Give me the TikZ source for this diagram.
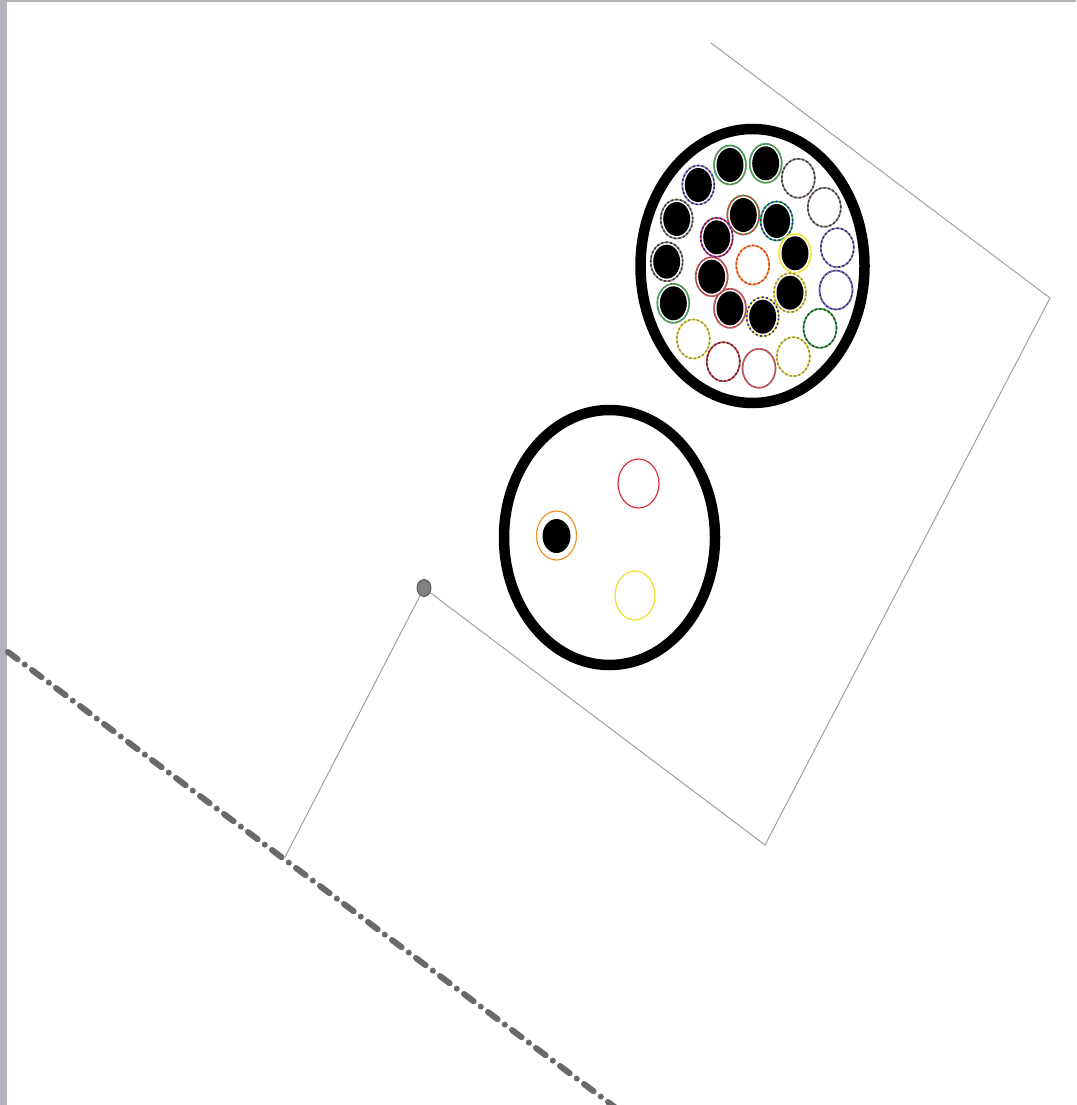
\documentclass[tikz,border=0pt]{standalone}
\usetikzlibrary{shapes.geometric}
\definecolor{framegray}{RGB}{178,180,185}
\definecolor{outlinegray}{RGB}{160,160,160}
\definecolor{dashgray}{RGB}{105,105,105}
\definecolor{wgreen}{RGB}{40,170,60}
\definecolor{wgray}{RGB}{140,130,130}
\definecolor{wdark}{RGB}{60,55,55}
\definecolor{wblue}{RGB}{40,40,170}
\definecolor{wred}{RGB}{220,50,60}
\definecolor{wyellow}{RGB}{235,225,40}
\definecolor{worange}{RGB}{240,150,40}
\newcommand\wireB[4]{%
  \fill[black] (#1,#2) ellipse [x radius=13.5pt, y radius=17pt];
  \draw[#3, line width=1.6pt] (#1,#2) ellipse [x radius=16pt, y radius=19.5pt];
  \draw[#4, line width=1.6pt, dash pattern=on 2pt off 2.5pt] (#1,#2) ellipse [x radius=16pt, y radius=19.5pt];}
\newcommand\wireW[4]{%
  \draw[#3, line width=1.6pt] (#1,#2) ellipse [x radius=16.5pt, y radius=19.5pt];
  \draw[#4, line width=1.6pt, dash pattern=on 2pt off 2.5pt] (#1,#2) ellipse [x radius=16.5pt, y radius=19.5pt];}
\tikzset{
  cablejacket/.style={draw=black, line width=10.5pt},
  outlineline/.style={draw=outlinegray, line width=1pt},
  dashdotline/.style={draw=dashgray, line width=6pt, line cap=round, dash pattern=on 12pt off 9pt on 0pt off 9pt},
  jointdot/.style={ellipse, draw=black!70, fill=gray, line width=0.8pt, minimum width=14pt, minimum height=17pt, inner sep=0pt},
}
\begin{document}
\begin{tikzpicture}[x=1pt,y=-1pt]
\useasboundingbox (0,0) rectangle (1076,1105);
\clip (0,0) rectangle (1076,1105);
% screenshot frame
\fill[framegray] (0,0) rectangle (7,1105);
\fill[framegray] (0,0) rectangle (1076,2);
% dash-dot line
\coordinate (dA) at (8,652);
\coordinate (dB) at (616,1108);
\draw[dashdotline] (dA) -- (dB);
% outline
\node[jointdot] (joint) at (424,588) {};
\coordinate (p0) at (285,857);
\coordinate (p1) at (765,845);
\coordinate (p2) at (1050,298);
\coordinate (p3) at (711,43);
\draw[outlineline] (p0) -- (joint) -- (p1) -- (p2) -- (p3);
% big cable
\draw[cablejacket] (752.5,266) ellipse [x radius=112pt, y radius=137pt];
% outer ring of wires
\wireB{730}{165}{wgreen}{wgray}
\wireB{765.7}{163.3}{wgreen}{wgray}
\wireW{798.3}{178.3}{wgray}{wdark}
\wireW{824.3}{207.3}{wgray}{wdark}
\wireW{837.3}{247.7}{wgray}{wblue}
\wireW{836}{290}{wblue}{wgray}
\wireW{820}{328.3}{wgreen}{wdark}
\wireW{793.3}{356.7}{wyellow}{wgray}
\wireW{759}{368.3}{wred}{wgray}
\wireW{723.3}{361.7}{wred}{wdark}
\wireW{693.3}{339}{wyellow}{wgray}
\wireB{673.3}{303.3}{wgreen}{wgray}
\wireB{666.7}{261.7}{wgray}{wdark}
\wireB{676.7}{219}{wgray}{wdark}
\wireB{698.3}{185}{wgray}{wblue}
% inner ring of wires
\wireB{743.3}{215}{wred}{wgreen}
\wireB{776.7}{221}{wgreen}{wblue}
\wireB{795}{253.3}{wyellow}{wyellow!60}
\wireB{790}{292.7}{wyellow}{wgray}
\wireB{762.7}{316.7}{wyellow}{wblue}
\wireB{730}{308.3}{wred}{wgray}
\wireB{711.7}{276.7}{wred}{wgray}
\wireB{716.7}{237.3}{wred}{wblue}
% centre wire
\wireW{752.7}{265}{worange}{wred}
% small cable
\draw[cablejacket] (609.5,537.5) ellipse [x radius=105.5pt, y radius=127.5pt];
\draw[wred, line width=1.2pt] (638.5,483.5) ellipse [x radius=20.5pt, y radius=24.5pt];
\draw[wyellow, line width=1.2pt] (635,595.5) ellipse [x radius=20pt, y radius=24.5pt];
\fill[black] (556.5,536) ellipse [x radius=14pt, y radius=17pt];
\draw[worange, line width=1.2pt] (556.5,535.5) ellipse [x radius=20pt, y radius=24.5pt];
\end{tikzpicture}
\end{document}
